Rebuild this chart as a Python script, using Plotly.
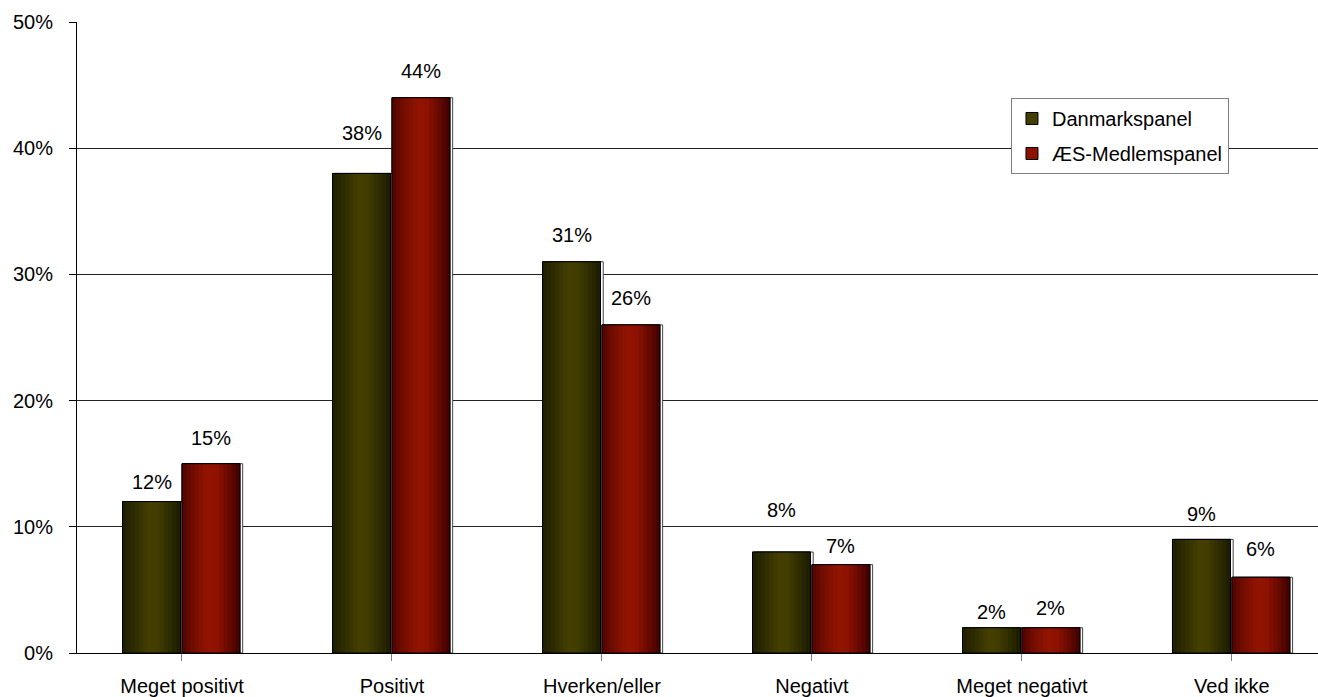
import plotly.graph_objects as go

categories = ["Meget positivt", "Positivt", "Hverken/eller", "Negativt", "Meget negativt", "Ved ikke"]
danmark = [12, 38, 31, 8, 2, 9]
aes = [15, 44, 26, 7, 2, 6]
series_names = ["Danmarkspanel", "ÆS-Medlemspanel"]
y_ticks = [0, 10, 20, 30, 40, 50]
y_tick_labels = ["0%", "10%", "20%", "30%", "40%", "50%"]

# styling (not data)
label_gap_dk = [20, 40, 27, 42, 16, 25]
label_gap_aes = [26, 27, 27, 19, 20, 28]
BAR_W = 0.276
OFFSETS = [-0.283, 0.0]
N = 14
profiles = [
    [(0.0, (30, 30, 0)), (0.2, (46, 44, 0)), (0.45, (68, 63, 0)), (0.6, (66, 62, 0)), (0.85, (42, 40, 0)), (1.0, (28, 28, 0))],
    [(0.0, (78, 4, 0)), (0.2, (116, 14, 0)), (0.45, (146, 20, 0)), (0.6, (142, 18, 0)), (0.85, (96, 8, 0)), (1.0, (60, 0, 0))],
]
mids = ["rgb(66,62,0)", "rgb(142,18,0)"]


def interp(profile, t):
    for (t0, c0), (t1, c1) in zip(profile, profile[1:]):
        if t0 <= t <= t1:
            f = (t - t0) / (t1 - t0) if t1 > t0 else 0
            return "rgb(%d,%d,%d)" % tuple(round(a + (b - a) * f) for a, b in zip(c0, c1))
    return "rgb(%d,%d,%d)" % profile[-1][1]


x_idx = list(range(len(categories)))
fig = go.Figure()
all_series = [danmark, aes]
for s, vals in enumerate(all_series):
    off = OFFSETS[s]
    # shadow
    fig.add_trace(go.Bar(x=x_idx, y=vals, offset=off + 0.013, width=BAR_W,
                         marker=dict(color="white", line=dict(color="#444", width=1)),
                         showlegend=False, hoverinfo="skip"))
    # base (legend)
    fig.add_trace(go.Bar(x=x_idx, y=vals, offset=off, width=BAR_W, name=series_names[s],
                         legendgroup=series_names[s],
                         marker=dict(color=mids[s], line=dict(color="black", width=1))))
    # gradient slices
    sw = BAR_W / N
    for i in range(N):
        t = (i + 0.5) / N
        w = min(sw * 1.4, BAR_W - i * sw)
        fig.add_trace(go.Bar(x=x_idx, y=vals, offset=off + i * sw, width=w,
                             marker=dict(color=interp(profiles[s], t), line=dict(width=0)),
                             showlegend=False, hoverinfo="skip"))
    # outline
    fig.add_trace(go.Bar(x=x_idx, y=vals, offset=off, width=BAR_W,
                         marker=dict(color="rgba(0,0,0,0)", line=dict(color="black", width=1)),
                         showlegend=False, hoverinfo="skip"))

annotations = []
for s, (vals, gaps) in enumerate(zip(all_series, [label_gap_dk, label_gap_aes])):
    for i, (v, g) in enumerate(zip(vals, gaps)):
        annotations.append(dict(x=i + OFFSETS[s] + BAR_W / 2, y=v, text=f"{v}%", showarrow=False,
                                xref="x", yref="y", yshift=g, yanchor="middle",
                                font=dict(size=20, color="black")))

fig.update_layout(
    width=1318, height=697,
    margin=dict(l=77, r=0, t=22, b=44),
    paper_bgcolor="white", plot_bgcolor="white",
    barmode="overlay",
    font=dict(family="Liberation Sans, Arial, sans-serif", size=20, color="black"),
    annotations=annotations,
    legend=dict(x=0.7526, y=0.8796, xanchor="left", yanchor="top",
                bgcolor="white", bordercolor="#808080", borderwidth=1,
                font=dict(size=20), tracegroupgap=6,
                traceorder="grouped"),
    xaxis=dict(tickmode="array", tickvals=x_idx, ticktext=categories,
               range=[-0.5, 5.41], showgrid=False, zeroline=False,
               showline=True, linecolor="black", linewidth=1,
               ticks="outside", ticklen=7, tickcolor="#808080",
               tickson="boundaries", ticklabelstandoff=8),
    yaxis=dict(range=[0, 50], tickmode="array", tickvals=y_ticks, ticktext=y_tick_labels,
               showgrid=True, gridcolor="#222", gridwidth=1,
               zeroline=False, showline=True, linecolor="black", linewidth=1,
               ticks="outside", ticklen=7, tickcolor="black", ticklabelstandoff=12),
)

fig.write_html("out.html", config={"displayModeBar": False},
               post_script="document.body.style.margin='0';document.body.style.overflow='hidden';")
